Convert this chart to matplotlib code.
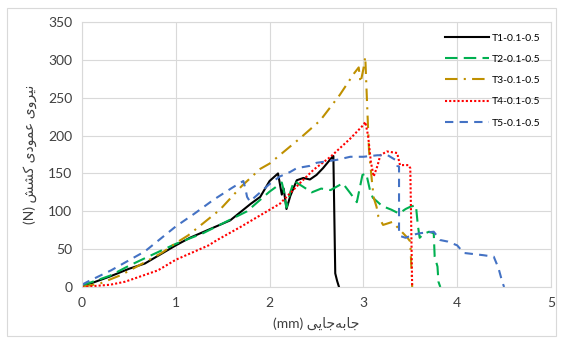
import matplotlib
matplotlib.use("Agg")
import matplotlib.pyplot as plt
from matplotlib.patches import Rectangle

# داده‌ها (خوانده شده از تصویر)
t1_x = [0, 0.1, 0.3, 0.5, 0.67, 1.0, 1.15, 1.3, 1.58, 1.8, 1.9, 2.0, 2.09, 2.13, 2.15, 2.18,
        2.22, 2.29, 2.36, 2.43, 2.5, 2.57, 2.67, 2.68, 2.7, 2.72, 2.74]
t1_y = [2, 5, 14, 24, 31, 55, 65, 73, 88, 110, 119, 140, 150, 122, 130, 103,
        120, 141, 144, 142, 148, 157, 172, 173, 18, 8, 0]

t2_x = [0, 0.3, 0.5, 0.67, 1.0, 1.29, 1.5, 1.76, 2.0, 2.1, 2.13, 2.15, 2.18, 2.22, 2.26, 2.35,
        2.45, 2.55, 2.65, 2.78, 2.86, 2.93, 2.99, 3.03, 3.07, 3.1, 3.2, 3.3, 3.38, 3.45, 3.5,
        3.56, 3.58, 3.6, 3.64, 3.7, 3.75, 3.76, 3.79, 3.8, 3.82]
t2_y = [2, 15, 28, 38, 57, 71, 84, 100, 126, 135, 138, 128, 105, 125, 140, 133,
        125, 130, 128, 137, 124, 112, 148, 150, 128, 118, 107, 102, 97, 103, 106,
        108, 82, 65, 70, 73, 71, 40, 27, 7, 0]

t3_x = [0, 0.2, 0.42, 0.6, 0.85, 1.0, 1.13, 1.3, 1.47, 1.7, 1.9, 2.0, 2.33, 2.54, 2.75, 2.9,
        2.95, 2.97, 3.0, 3.02, 3.04, 3.06, 3.09, 3.11, 3.14, 3.16, 3.21, 3.31, 3.37, 3.47,
        3.5, 3.51, 3.52]
t3_y = [0, 5, 16, 28, 45, 58, 68, 85, 102, 133, 156, 163, 197, 220, 254, 282,
        290, 270, 288, 304, 240, 180, 141, 118, 106, 93, 82, 86, 78, 65,
        60, 30, 0]

t4_x = [0, 0.3, 0.46, 0.67, 0.81, 1.0, 1.35, 1.44, 1.7, 2.0, 2.11, 2.33, 2.47, 2.65, 2.86,
        3.0, 3.02, 3.05, 3.08, 3.11, 3.15, 3.18, 3.25, 3.36, 3.39, 3.48, 3.5, 3.51, 3.52]
t4_y = [0, 3, 7, 16, 22, 36, 55, 62, 80, 102, 110, 138, 155, 172, 196,
        214, 218, 200, 165, 146, 160, 174, 179, 177, 161, 161, 157, 80, 0]

t5_x = [0, 0.06, 0.31, 0.67, 1.0, 1.2, 1.4, 1.6, 1.72, 1.74, 1.76, 1.79, 1.9, 2.0, 2.11,
        2.22, 2.29, 2.43, 2.5, 2.72, 2.86, 3.0, 3.15, 3.26, 3.34, 3.36, 3.38, 3.38, 3.4,
        3.45, 3.53, 3.6, 3.75, 3.82, 3.9, 4.0, 4.07, 4.28, 4.39, 4.44, 4.48, 4.5]
t5_y = [3, 7, 22, 47, 80, 97, 115, 131, 140, 131, 119, 113, 125, 136, 146,
        152, 157, 160, 164, 168, 172, 172, 174, 174, 168, 160, 159, 71, 67,
        65, 69, 71, 73, 62, 60, 55, 45, 42, 40, 25, 7, 0]

labels = ["T1-0.1-0.5", "T2-0.1-0.5", "T3-0.1-0.5", "T4-0.1-0.5", "T5-0.1-0.5"]

plt.rcParams['font.family'] = ['Lato', 'DejaVu Sans']

fig = plt.figure(figsize=(5.62, 3.42), dpi=100)
ax = fig.add_axes([0.1459, 0.1608, 0.8345, 0.7749])

lw = 1.5
ax.plot(t1_x, t1_y, color='black', lw=lw, label=labels[0])
ax.plot(t2_x, t2_y, color='#00b050', lw=lw, dashes=(6, 3), label=labels[1])
ax.plot(t3_x, t3_y, color='#bf9000', lw=lw, dashes=(6, 3, 1, 3), label=labels[2])
ax.plot(t4_x, t4_y, color='#ff0000', lw=lw, dashes=(1, 1), label=labels[3])
ax.plot(t5_x, t5_y, color='#4472c4', lw=lw, dashes=(4, 3), label=labels[4])

ax.set_xlim(0, 5)
ax.set_ylim(0, 350)
ax.set_xticks(range(0, 6))
ax.set_yticks(range(0, 351, 50))
ax.grid(True, color='#d9d9d9', lw=0.8)
ax.set_axisbelow(True)
for s in ax.spines.values():
    s.set_color('#d9d9d9')
    s.set_linewidth(0.8)
ax.tick_params(length=0, labelsize=10, colors='#404040', pad=7)

# متن فارسی به ترتیب نمایشی و با حروف شکل‌دار
ylab = "(N) \uFEB6\uFEB8\uFB90 \uFEEF\uFEA9\uFEEE\uFEE4\uFECB \uFEEF\uFEED\uFEAE\uFEF4\uFEE7"
xlab = "(mm) \uFEF0\uFEF3\uFE8E\uFE9F\uFEEA\uFE91\uFE8E\uFE9F"
ax.set_ylabel(ylab, fontsize=10, color='#404040', labelpad=8)
ax.set_xlabel(xlab, fontsize=10, color='#404040', labelpad=6)

fig.legend(loc='upper left', bbox_to_anchor=(0.783, 0.918), frameon=False,
           fontsize=7.5, handlelength=4.2, labelspacing=1.15, borderpad=0,
           handletextpad=0.3)

fig.patches.append(Rectangle((0.0125, 0.018), 0.977, 0.959, transform=fig.transFigure,
                             fill=False, ec='#d9d9d9', lw=0.8))

fig.savefig("out.png", dpi=100)
